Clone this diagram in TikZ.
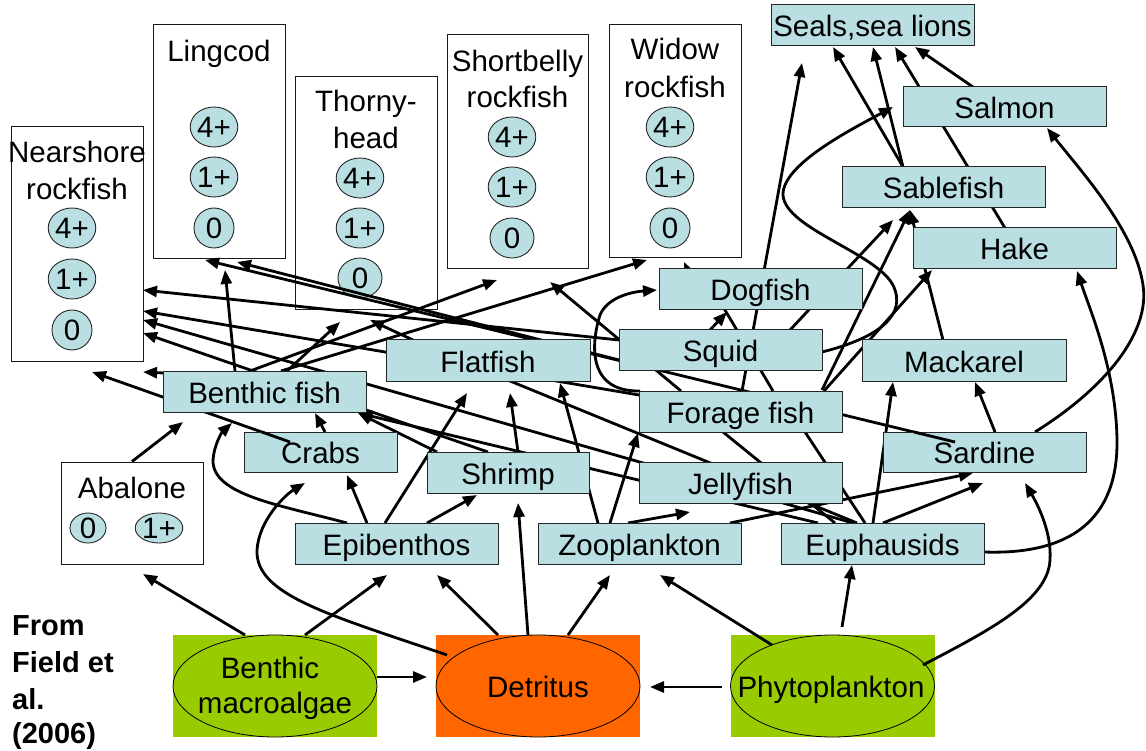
\documentclass[tikz,border=0pt]{standalone}
\usepackage{fontspec}
\setmainfont{Liberation Sans}
\usetikzlibrary{arrows.meta,calc,shapes.geometric}
\definecolor{lb}{RGB}{185,223,227}
\definecolor{grn}{RGB}{153,204,0}
\definecolor{org}{RGB}{255,102,0}
\begin{document}
\begin{tikzpicture}[x=1pt,y=-1pt,
  font=\fontsize{29.5}{36}\selectfont,
  sp/.style={draw=black!85, fill=lb, line width=1pt, minimum width=203pt, minimum height=41pt, inner sep=0pt, text height=23pt, text depth=0pt},
  wb/.style={draw=black!90, fill=white, line width=1pt, inner sep=0pt},
  agec/.style={ellipse, draw=black!85, fill=lb, line width=0.9pt, minimum width=40pt, minimum height=40pt, inner sep=0pt},
  agew/.style={agec, minimum width=44pt},
  agea/.style={agec, minimum width=36pt, minimum height=30pt},
  lbl/.style={anchor=base, inner sep=0pt},
  src/.style={anchor=base west, inner sep=0pt, font=\fontsize{29}{36}\selectfont\bfseries},
  prod/.style={rectangle, minimum width=204pt, minimum height=102pt, inner sep=0pt},
  prode/.style={ellipse, draw=black, line width=0.8pt, minimum width=204pt, minimum height=102pt, inner sep=0pt},
  arr/.style={line width=2.8pt, -{Triangle[length=14pt,width=11pt]}},
  ln/.style={line width=2.8pt}]
\useasboundingbox (0,0) rectangle (1146,751);

% ---------- producers ----------
\node[prod, fill=grn] (malgR) at (275,686) {};
\node[prode] (malg) at (275,686) {};
\node[lbl] (malgT1) at (270,678) {Benthic};
\node[lbl] (malgT2) at (275,713) {macroalgae};
\node[prod, fill=org] (detrR) at (538,686) {};
\node[prode] (detr) at (538,686) {};
\node[lbl] (detrT) at (538,697) {Detritus};
\node[prod, fill=grn] (phytoR) at (832.5,686) {};
\node[prode] (phyto) at (832.5,686) {};
\node[lbl] (phytoT) at (831,697) {Phytoplankton};

% ---------- white boxes ----------
\node[wb, minimum width=132pt, minimum height=234pt] (near) at (77,244) {};
\node[lbl] (nearT1) at (77,163) {Nearshore};
\node[lbl] (nearT2) at (77,200) {rockfish};
\node[agec] (near4) at (72,228) {4+};
\node[agec] (near1) at (72,279) {1+};
\node[agec] (near0) at (72,330) {0};

\node[wb, minimum width=132pt, minimum height=234pt] (ling) at (219,142) {};
\node[lbl] (lingT) at (219,62) {Lingcod};
\node[agec] (ling4) at (214,127) {4+};
\node[agec] (ling1) at (214,177) {1+};
\node[agec] (ling0) at (214,228) {0};

\node[wb, minimum width=142pt, minimum height=233pt] (thorny) at (366,193.5) {};
\node[lbl] (thornyT1) at (366,112) {Thorny-};
\node[lbl] (thornyT2) at (366,149) {head};
\node[agew] (thorny4) at (360,178) {4+};
\node[agew] (thorny1) at (360,228) {1+};
\node[agew] (thorny0) at (360,278) {0};

\node[wb, minimum width=141pt, minimum height=234pt] (short) at (517.5,152) {};
\node[lbl] (shortT1) at (517.5,72) {Shortbelly};
\node[lbl] (shortT2) at (517.5,108) {rockfish};
\node[agew] (short4) at (512,137) {4+};
\node[agew] (short1) at (512,187) {1+};
\node[agew] (short0) at (512,238) {0};

\node[wb, minimum width=132pt, minimum height=233pt] (widow) at (675,141.5) {};
\node[lbl] (widowT1) at (675,60) {Widow};
\node[lbl] (widowT2) at (675,98) {rockfish};
\node[agec] (widow4) at (670,127) {4+};
\node[agec] (widow1) at (670,177) {1+};
\node[agec] (widow0) at (670,228) {0};

\node[wb, minimum width=142pt, minimum height=102pt] (abal) at (132,513) {};
\node[lbl] (abalT) at (132,498) {Abalone};
\node[agea] (abal0) at (88,528) {0};
\node[agea] (abal1) at (159,528) {1+};

% ---------- centres of the blue boxes ----------
\coordinate (seals) at (872.5,25.5);
\coordinate (salmon) at (1004.5,107);
\coordinate (sable) at (943.5,187.5);
\coordinate (hake) at (1014.5,248.5);
\coordinate (dog) at (760.5,289.5);
\coordinate (squid) at (720.5,350);
\coordinate (mack) at (964,360.5);
\coordinate (flat) at (488,360.5);
\coordinate (bfish) at (264.5,391.5);
\coordinate (forage) at (740.5,411.5);
\coordinate (crabs) at (320.5,452);
\coordinate (sardine) at (984.5,452);
\coordinate (shrimp) at (508,472.5);
\coordinate (jelly) at (740.5,482.5);
\coordinate (epib) at (396.5,543.5);
\coordinate (zoo) at (639.5,543.5);
\coordinate (euph) at (882.5,543.5);

% ---------- connectors ----------
\draw[arr] ($(forage)+(1.5,-20.5)$) -- ($(seals)+(-70.5,37.5)$);
\draw[arr] ($(sable)+(-40.5,-20.5)$) -- ($(seals)+(-39.5,21.5)$);
\draw[arr] ($(sable)+(-40.5,-20.5)$) -- ($(seals)+(0.5,21.5)$);
\draw[arr] ($(hake)+(-9.5,-20.5)$) -- ($(seals)+(22.5,21.5)$);
\draw[arr] ($(salmon)+(-31.5,-20)$) -- ($(seals)+(42.5,21.5)$);
\draw[arr] ($(squid)+(101.5,2)$) .. controls (870,340) and (905,320) .. (895,290)
   .. controls (885,255) and (785,230) .. (783,195)
   .. controls (782,165) and (850,130) .. ($(salmon)+(-111.5,0)$);
\draw[arr] ($(sardine)+(50.5,-20)$) .. controls (1110,385) and (1150,330) .. (1143,285)
   .. controls (1135,230) and (1080,170) .. ($(salmon)+(42.5,21)$);
\draw[arr] ($(euph)+(101.5,8.5)$) .. controls (1070,555) and (1118,520) .. (1117,440)
   .. controls (1116,370) and (1090,310) .. ($(hake)+(62.5,22.5)$);
\draw[arr] ($(mack)+(-21,-20.5)$) -- ($(sable)+(-33.5,22.5)$);
\draw[arr] ($(forage)+(81.5,-21.5)$) -- ($(sable)+(-33.5,22.5)$);
\draw[arr] ($(squid)+(69.5,-20)$) -- ($(sable)+(-50.5,32.5)$);
\draw[arr] ($(forage)+(83.5,-20.5)$) -- ($(hake)+(-82.5,21.5)$);
\draw[arr] ($(euph)+(-9.5,-20.5)$) -- ($(mack)+(-71,21.5)$);
\draw[arr] ($(sardine)+(10.5,-20)$) -- ($(mack)+(11,21.5)$);
\draw[arr] ($(zoo)+(90.5,-20.5)$) -- ($(sardine)+(-11.5,21)$);
\draw[arr] ($(euph)+(0.5,-20.5)$) -- ($(sardine)+(-1.5,31)$);
\draw[arr] ($(phyto)+(90.5,-21)$) .. controls (990,630) and (1048,600) .. (1050,560)
   .. controls (1052,530) and (1035,500) .. ($(sardine)+(40.5,31)$);
\draw[arr] ($(sardine)+(-29.5,-10)$) -- ($(ling)+(-14,118)$);
\draw[arr] ($(crabs)+(-30.5,-10)$) -- ($(near)+(15,128)$);
\draw[arr] ($(squid)+(-101.5,-10)$) -- ($(near)+(66,46)$);
\draw[arr] ($(forage)+(-101.5,-16.5)$) -- ($(near)+(66,67)$);
\draw[arr] ($(euph)+(-29.5,-20.5)$) -- ($(near)+(66,76)$);
\draw[arr] ($(shrimp)+(-20,-20.5)$) -- ($(near)+(66,89)$);
\draw[arr] ($(bfish)+(-59.5,-16.5)$) -- ($(near)+(66,128)$);
\draw[arr] ($(bfish)+(-29.5,-20.5)$) -- ($(ling)+(6,128)$);
\draw[arr] ($(squid)+(-101.5,10)$) -- ($(ling)+(18,120)$);
\draw[arr] ($(bfish)+(22.5,-20.5)$) -- ($(thorny)+(-26,128.5)$);
\draw[arr] ($(flat)+(-75,-20.5)$) -- ($(thorny)+(4,126.5)$);
\draw[arr] ($(bfish)+(-14.5,-20.5)$) -- ($(short)+(-20.5,128)$);
\draw[arr] ($(forage)+(-59.5,-20.5)$) -- ($(short)+(32.5,130)$);
\draw[arr] ($(bfish)+(16.5,-20.5)$) -- ($(widow)+(-28,118.5)$);
\draw[arr] ($(dog)+(-70.5,-14.5)$) -- ($(widow)+(9,120.5)$);
\draw[arr] ($(forage)+(-100.5,-20.5)$) .. controls (585,392) and (592,340) .. (600,315)
   .. controls (607,298) and (630,292) .. ($(dog)+(-103.5,0.5)$);
\draw[arr] ($(squid)+(-10.5,-20)$) -- ($(dog)+(-33.5,22.5)$);
\draw[ln] ($(forage)+(32.5,-20.5)$) -- ($(dog)+(-38.5,15.5)$);
\draw[arr] ($(shrimp)+(-71,-20.5)$) -- ($(bfish)+(93.5,21.5)$);
\draw[arr] ($(euph)+(-64.5,-20.5)$) -- ($(bfish)+(93.5,21.5)$);
\draw[arr] ($(crabs)+(4.5,-20)$) -- ($(bfish)+(50.5,21.5)$);
\draw[arr] ($(epib)+(-49.5,-20.5)$) .. controls (280,505) and (212,495) .. (213,460)
   .. controls (214,445) and (222,432) .. ($(bfish)+(-32.5,31.5)$);
\draw[arr] (abal.north) -- ($(bfish)+(-81.5,30.5)$);
\draw[arr] ($(epib)+(-29.5,-20.5)$) -- ($(crabs)+(26.5,23)$);
\draw[arr] ($(epib)+(-11.5,-20.5)$) -- ($(flat)+(-21,32.5)$);
\draw[arr] ($(epib)+(30.5,-20.5)$) -- ($(shrimp)+(-31,22.5)$);
\draw[arr] ($(detr)+(-91,-31)$) .. controls (330,615) and (255,595) .. (257,550)
   .. controls (259,520) and (285,495) .. ($(crabs)+(-15.5,31)$);
\draw[arr] ($(detr)+(-40,-51)$) -- ($(epib)+(40.5,31.5)$);
\draw[arr] ($(detr)+(-10,-51)$) -- ($(shrimp)+(10,30.5)$);
\draw[arr] ($(detr)+(30,-51)$) -- ($(zoo)+(-29.5,31.5)$);
\draw[arr] ($(phyto)+(-110.5,1)$) -- ($(detr)+(112,1)$);
\draw[arr] ($(malg)+(102,-9)$) -- ($(detr)+(-111,-9)$);
\draw[arr] ($(malg)+(-30,-51)$) -- ($(abal)+(11,61)$);
\draw[arr] ($(malg)+(30,-51)$) -- ($(epib)+(-9.5,31.5)$);
\draw[arr] ($(phyto)+(-60.5,-41)$) -- ($(zoo)+(20.5,31.5)$);
\draw[arr] ($(phyto)+(9.5,-59)$) -- ($(euph)+(-30.5,21.5)$);
\draw[arr] ($(zoo)+(-41.5,-20.5)$) -- ($(flat)+(72,22.5)$);
\draw[arr] ($(zoo)+(-29.5,-20.5)$) -- ($(forage)+(-102.5,21.5)$);
\draw[arr] ($(zoo)+(-11.5,-20.5)$) -- ($(jelly)+(-50.5,29.5)$);
\draw[arr] ($(shrimp)+(10,-20.5)$) -- ($(flat)+(22,32.5)$);
\draw[ln] ($(euph)+(-25.5,-20.5)$) -- ($(flat)+(22,20.5)$);
\draw[ln] ($(euph)+(-47.5,-20.5)$) -- ($(forage)+(-17.5,20.5)$);
\draw[ln] ($(euph)+(-17.5,-20.5)$) -- ($(forage)+(64.5,20.5)$);

% ---------- blue boxes ----------
\node[sp] (sealsN) at (seals) {Seals,sea lions};
\node[sp, minimum height=40pt] (salmonN) at (salmon) {Salmon};
\node[sp] (sableN) at (sable) {Sablefish};
\node[sp] (hakeN) at (hake) {Hake};
\node[sp] (dogN) at (dog) {Dogfish};
\node[sp, minimum height=40pt] (squidN) at (squid) {Squid};
\node[sp, minimum width=204pt] (mackN) at (mack) {Mackarel};
\node[sp, minimum width=204pt] (flatN) at (flat) {Flatfish};
\node[sp] (bfishN) at (bfish) {Benthic fish};
\node[sp] (forageN) at (forage) {Forage fish};
\node[sp, minimum width=153pt, minimum height=40pt] (crabsN) at (crabs) {Crabs};
\node[sp, minimum height=40pt] (sardineN) at (sardine) {Sardine};
\node[sp, minimum width=162pt] (shrimpN) at (shrimp) {Shrimp};
\node[sp] (jellyN) at (jelly) {Jellyfish};
\node[sp] (epibN) at (epib) {Epibenthos};
\node[sp] (zooN) at (zoo) {Zooplankton};
\node[sp] (euphN) at (euph) {Euphausids};

% segments lying over boxes
\draw[ln] ($(sardine)+(-29.5,-10)$) -- ($(sardine)+(-70.7,-20)$);
\draw[ln] ($(crabs)+(-30.5,-10)$) -- ($(crabs)+(-58.8,-20)$);

% ---------- source ----------
\node[src] (srcA) at (12,635) {From};
\node[src] (srcB) at (12,672) {Field et};
\node[src] (srcC) at (12,709) {al.};
\node[src] (srcD) at (12,743) {(2006)};
\end{tikzpicture}
\end{document}
